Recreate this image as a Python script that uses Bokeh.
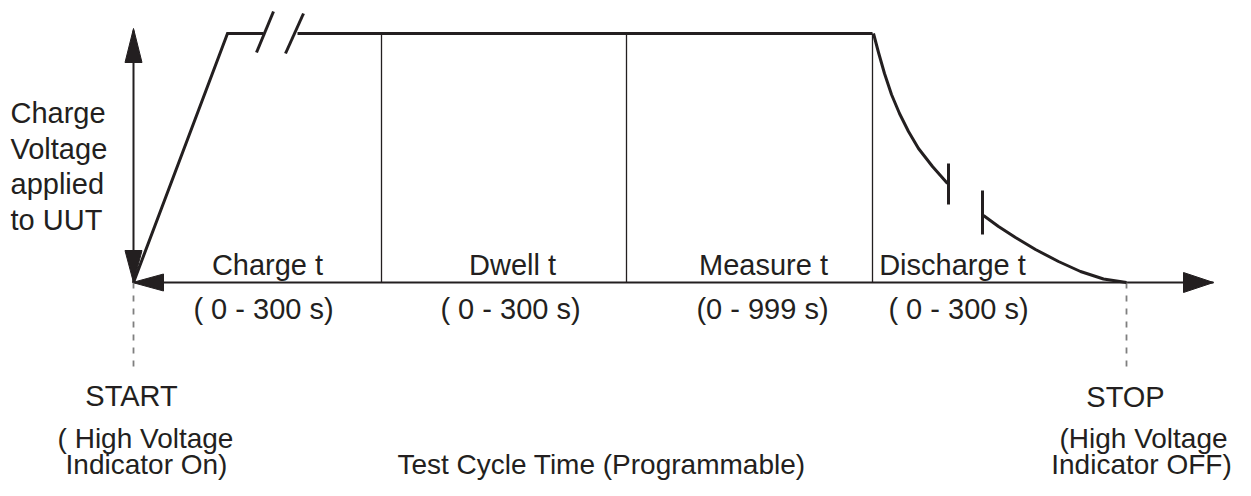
from bokeh.plotting import figure
from bokeh.models import Range1d
from bokeh.core.properties import value
from bokeh.embed import file_html
from bokeh.resources import INLINE

INK = "#231f20"
FONT = value("Liberation Sans")
FS = "29px"
TEXT_DY = -9   # compensates the svg backend's baseline placement

# ---- diagram data (diagram pixel units) ----
axis_y = 282
top_y = 33
phase_edges = [133, 381, 626, 872, 1126]          # start, charge/dwell, dwell/measure, measure/discharge, stop
phase_names = ["Charge t", "Dwell t", "Measure t", "Discharge t"]
phase_ranges = ["( 0 - 300 s)", "( 0 - 300 s)", "(0 - 999 s)", "( 0 - 300 s)"]
name_x = [267, 512, 763, 952]
range_x = [263, 510, 762, 958]
name_y = 273
range_y = 317

# charge ramp + hold (with break)
ramp_x = [133, 227, 263]
ramp_y = [282, 33, 33]
hold_x = [297, 872]
hold_y = [33, 33]
break_x = [[256, 273], [285, 303]]
break_y = [[52, 11], [53, 13]]

# discharge curve (with break)
dis1_x = [873, 878, 884, 891, 899, 908, 918, 932, 947]
dis1_y = [33, 52, 73, 94, 113, 131, 148, 166, 183]
dis2_x = [983, 998, 1015, 1035, 1058, 1080, 1103, 1126]
dis2_y = [215, 226, 237, 249, 261, 271, 278.5, 282]
dbreak_x = [[948, 948], [982, 982]]
dbreak_y = [[163, 204], [190, 234]]

y_label = ["Charge", "Voltage", "applied", "to UUT"]
y_label_base = [121, 157, 192, 228]

marker_text = ["START", "STOP"]
marker_x = [131, 1125]
marker_y = [404, 405]
note_text = ["( High Voltage", "Indicator On)", "(High Voltage", "Indicator OFF)",
             "Test Cycle Time (Programmable)"]
note_x = [145, 146, 1143, 1141, 601]
note_y = [447, 473, 447, 473, 473]

# ---- figure ----
p = figure(width=1235, height=480, x_range=Range1d(0, 1235), y_range=Range1d(480, 0),
           output_backend="svg", toolbar_location=None, x_axis_type=None, y_axis_type=None,
           min_border=0, outline_line_color=None, background_fill_color="white")
p.grid.visible = False

# axes lines
p.line([phase_edges[0], 1213], [axis_y, axis_y], line_color=INK, line_width=2)
p.line([133, 133], [30, axis_y], line_color=INK, line_width=2)

def head(tx, ty, dx, dy, length, half):
    bx, by = tx - dx * length, ty - dy * length
    px, py = -dy, dx
    return [tx, bx + px * half, bx - px * half], [ty, by + py * half, by - py * half]

heads = [head(133, 28, 0, -1, 34, 8.5), head(133, 282, 0, 1, 32, 8.5),
         head(132, 282, -1, 0, 31, 8.5), head(1213, 282, 1, 0, 30, 10)]
p.patches([h[0] for h in heads], [h[1] for h in heads], fill_color=INK, line_color=INK, line_width=1)

# phase dividers
p.multi_line([[x, x] for x in phase_edges[1:4]], [[top_y, axis_y]] * 3, line_color=INK, line_width=1.3)

# dashed start / stop markers
p.multi_line([[phase_edges[0]] * 2, [phase_edges[4]] * 2], [[axis_y, 372], [axis_y, 370]],
             line_color="#7f7f7f", line_width=1.8, line_dash="6 7")

# voltage trace
p.line(ramp_x, ramp_y, line_color=INK, line_width=3, line_join="miter")
p.line(hold_x, hold_y, line_color=INK, line_width=3)
p.multi_line(break_x, break_y, line_color=INK, line_width=3)
p.line(dis1_x, dis1_y, line_color=INK, line_width=3, line_join="round")
p.line(dis2_x, dis2_y, line_color=INK, line_width=3, line_join="round")
p.multi_line(dbreak_x, dbreak_y, line_color=INK, line_width=3)

tk = dict(text_font=FONT, text_font_size=FS, text_color=INK, text_baseline="alphabetic")

def sh(ys):
    return [y + TEXT_DY for y in ys]

p.text(x=name_x, y=sh([name_y] * 4), text=phase_names, text_align="center", **tk)
p.text(x=range_x, y=sh([range_y] * 4), text=phase_ranges, text_align="center", **tk)
p.text(x=[10] * 4, y=sh(y_label_base), text=y_label, text_align="left", **tk)
p.text(x=marker_x, y=sh(marker_y), text=marker_text, text_align="center", **tk)
p.text(x=note_x, y=sh(note_y), text=note_text, text_align="center",
       text_font=FONT, text_font_size="28px", text_color=INK, text_baseline="alphabetic")

open("out.html", "w").write(file_html(p, INLINE))
